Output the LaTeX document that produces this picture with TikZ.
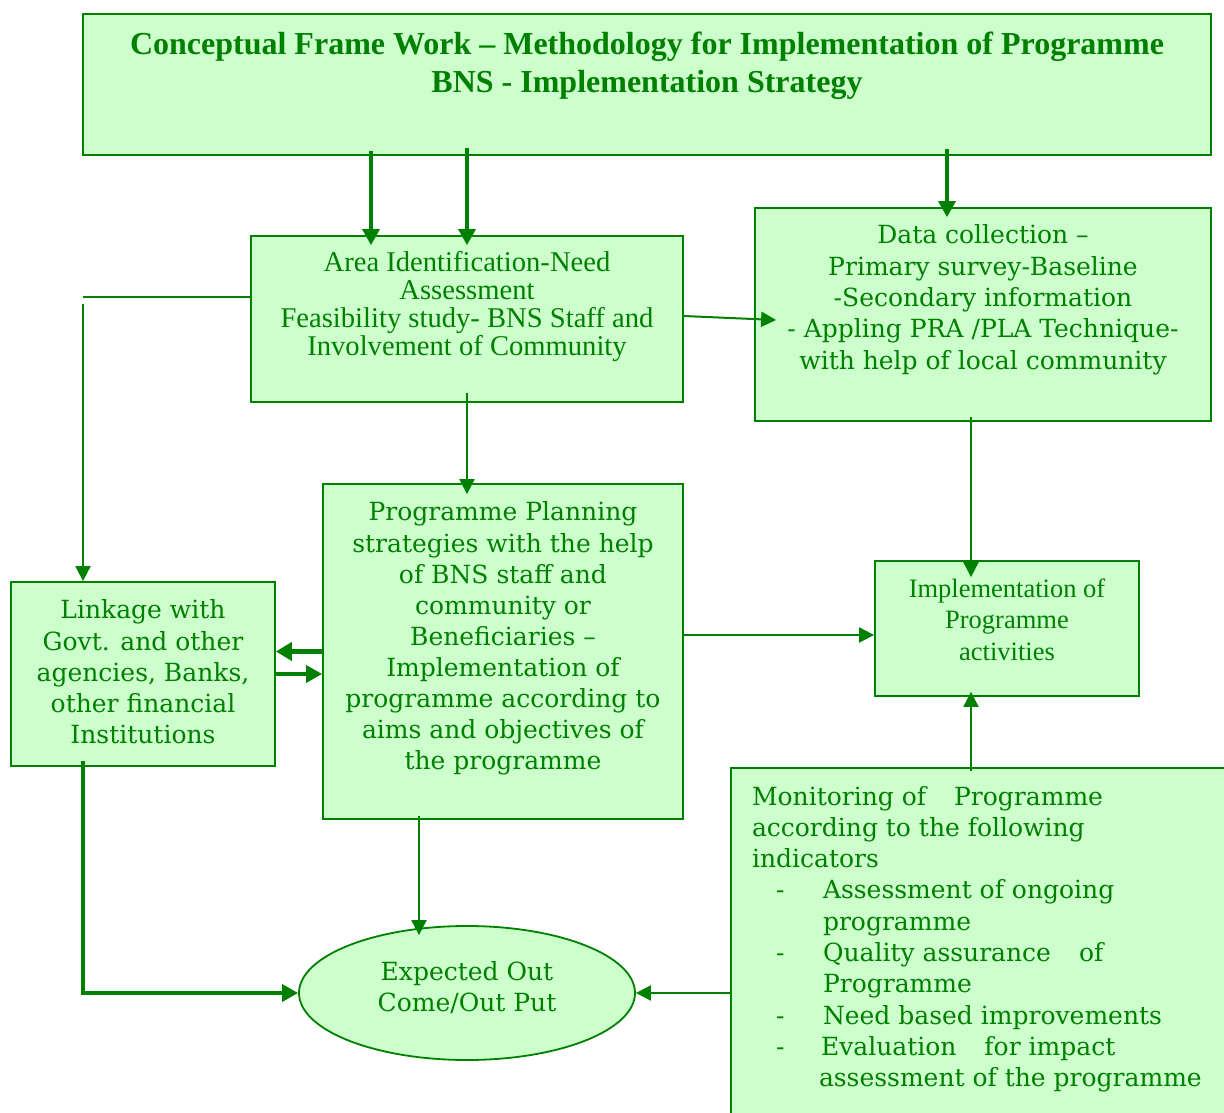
\documentclass[tikz,border=0pt]{standalone}
\usepackage{fontspec}
\setmainfont{Liberation Serif}
\newfontfamily\bk{DejaVu Serif}
\usetikzlibrary{arrows.meta,shapes.geometric}
\definecolor{lc}{HTML}{008000}
\definecolor{lf}{HTML}{CCFFCC}
\newcommand\boxt[4]{\parbox[c][#2][t]{#1}{\vspace*{#3}#4\par}}
\begin{document}
\begin{tikzpicture}[x=1pt,y=-1pt,
  box/.style={draw=lc,fill=lf,line width=1.8pt,inner sep=0pt,text=lc},
  thin/.style={draw=lc,line width=2pt,-{Triangle[length=15pt,width=15pt]}},
  fat/.style={draw=lc,line width=3.5pt,-{Triangle[length=16pt,width=17pt]}},
  fatter/.style={draw=lc,line width=5pt,-{Triangle[length=16pt,width=18pt]}},
  plain/.style={draw=lc,line width=2pt}]
\useasboundingbox (0,0) rectangle (1224,1113);
\clip (0,0) rectangle (1224,1113);
\fill[white] (0,0) rectangle (1224,1113);

% boxes
\node[box] (title) at (647,84.5) {\boxt{1128pt}{141pt}{18pt}{\centering\fontsize{32}{38}\selectfont\bfseries
  Conceptual Frame Work – Methodology for Implementation of Programme\\
  BNS - Implementation Strategy}};

\node[box] (area) at (467,319) {\boxt{432pt}{166pt}{15pt}{\centering\fontsize{28.6}{28}\selectfont
  Area Identification-Need\\Assessment\\Feasibility study- BNS Staff and\\Involvement of Community}};

\node[box] (data) at (983,314.5) {\boxt{456pt}{213pt}{17pt}{\centering\bk\fontsize{25}{31.3}\selectfont
  Data collection –\\Primary survey-Baseline\\-Secondary information\\- Appling PRA /PLA Technique-\\with help of local community}};

\node[box] (plan) at (503,651.5) {\boxt{360pt}{335pt}{18pt}{\centering\bk\fontsize{25}{31.1}\selectfont
  Programme Planning\\strategies with the help\\of BNS staff and\\community or\\Beneficiaries –\\Implementation of\\programme according to\\aims and objectives of\\the programme}};

\node[box] (link) at (143,674) {\boxt{264pt}{184pt}{18pt}{\centering\bk\fontsize{25}{31.25}\selectfont
  Linkage with\\Govt. and other\\agencies, Banks,\\other financial\\Institutions}};

\node[box] (impl) at (1007,628.5) {\boxt{264pt}{135pt}{17.4pt}{\centering\fontsize{26.5}{31.5}\selectfont
  Implementation of\\Programme\\activities}};

\node[box] (mon) at (980.5,944) {\boxt{499pt}{352pt}{18pt}{\raggedright\leftskip=21pt\bk\fontsize{25}{31.3}\selectfont
  Monitoring of\hspace{28pt}Programme\\
  according to the following\\
  indicators\\
  \hspace*{24pt}\makebox[47pt][l]{-}Assessment of ongoing\\
  \hspace*{71pt}programme\\
  \hspace*{24pt}\makebox[47pt][l]{-}Quality assurance\hspace{28pt}of\\
  \hspace*{71pt}Programme\\
  \hspace*{24pt}\makebox[47pt][l]{-}Need based improvements\\
  \hspace*{24pt}\makebox[45pt][l]{-}Evaluation\hspace{28pt}for impact\\
  \hspace*{67pt}assessment of the programme}};

\node[box,ellipse,minimum width=336pt,minimum height=134pt] (ell) at (467,993)
  {\parbox[c]{190pt}{\centering\bk\fontsize{25}{31}\selectfont Expected Out\\Come/Out Put\par\vspace{10pt}}};

% helper coordinates
\coordinate (x371) at (371,0);
\coordinate (x467) at (467,0);
\coordinate (x947) at (947,0);
\coordinate (x971) at (971,0);
\coordinate (x419) at (419,0);
\coordinate (x83) at (83,0);
\coordinate (L1) at (83,297);
\coordinate (L2) at (83,304);
\coordinate (y635) at (0,635);

% connectors
\draw[fat,shorten <=-5pt,shorten >=-10pt] (x371 |- title.south) -- (x371 |- area.north);
\draw[fat,shorten <=-8pt,shorten >=-10pt] (x467 |- title.south) -- (x467 |- area.north);
\draw[fat,shorten <=-7pt,shorten >=-10pt] (x947 |- title.south) -- (x947 |- data.north);

\draw[thin] ([yshift=3pt]area.east) -- ([xshift=22pt,yshift=-5.5pt]data.west);
\draw[thin,shorten <=-10pt,shorten >=-11pt] (x467 |- area.south) -- (x467 |- plan.north);

\draw[plain] (area.west |- L1) -- (L1);
\draw[thin] (L2) -- (L2 |- link.north);

\draw[fatter] (plan.west) -- (link.east |- plan.west);
\draw[fat] (link.east) -- (plan.west |- link.east);

\draw[thin] (plan.east |- y635) -- (impl.west |- y635);
\draw[thin,shorten <=-5pt,shorten >=-17pt] (x971 |- data.south) -- (x971 |- impl.north);
\draw[thin,shorten <=-4pt,shorten >=-5pt] (x971 |- mon.north) -- (x971 |- impl.south);

\draw[thin,shorten <=-4pt,shorten >=-10pt] (x419 |- plan.south) -- (x419 |- ell.north);
\draw[thin] (mon.west |- ell.east) -- (ell.east);
\draw[fat,shorten <=-6pt] (x83 |- link.south) -- (x83 |- ell.west) -- (ell.west);
\end{tikzpicture}
\end{document}
